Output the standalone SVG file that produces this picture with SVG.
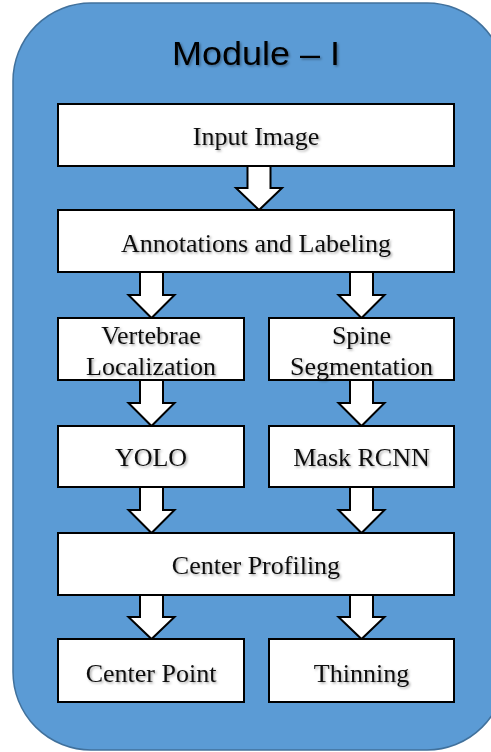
<svg xmlns="http://www.w3.org/2000/svg" width="491" height="752" viewBox="0 0 491 752">
  <defs>
    <filter id="txtShadow" x="-10%" y="-20%" width="120%" height="150%">
      <feDropShadow dx="1.5" dy="1.5" stdDeviation="0.8" flood-color="#000" flood-opacity="0.35"/>
    </filter>
    <style>
      .box { fill: #ffffff; stroke: #000000; stroke-width: 2; }
      .arrow { fill: #ffffff; stroke: #000000; stroke-width: 2; stroke-linejoin: miter; }
      .lbl { font-family: "Liberation Serif", "Times New Roman", serif; font-size: 26px; fill: #111; text-anchor: middle; filter: url(#txtShadow); }
      .title { font-family: "Liberation Sans", Arial, sans-serif; font-size: 33px; fill: #000; text-anchor: middle; filter: url(#txtShadow); }
    </style>
  </defs>

  <!-- module background panel -->
  <rect id="panel" x="13" y="3" width="492" height="747" rx="78" ry="78" fill="#5B9BD5" stroke="#41719C" stroke-width="1.5"/>
  <text class="title" x="256" y="65" textLength="168" lengthAdjust="spacingAndGlyphs">Module – I</text>

  <!-- block arrows -->
  <g id="connectors">
    <path class="arrow" d="M247.5,166 H270.5 V188 H282 L259,210 L236,188 H247.5 Z"/>
    <path class="arrow" d="M140,272 H163 V295 H174.5 L151.5,318 L128.5,295 H140 Z"/>
    <path class="arrow" d="M350,272 H373 V295 H384.5 L361.5,318 L338.5,295 H350 Z"/>
    <path class="arrow" d="M140,380 H163 V403 H174.5 L151.5,426 L128.5,403 H140 Z"/>
    <path class="arrow" d="M350,380 H373 V403 H384.5 L361.5,426 L338.5,403 H350 Z"/>
    <path class="arrow" d="M140,487 H163 V510 H174.5 L151.5,533 L128.5,510 H140 Z"/>
    <path class="arrow" d="M350,487 H373 V510 H384.5 L361.5,533 L338.5,510 H350 Z"/>
    <path class="arrow" d="M140,595 H163 V617 H174.5 L151.5,639 L128.5,617 H140 Z"/>
    <path class="arrow" d="M350,595 H373 V617 H384.5 L361.5,639 L338.5,617 H350 Z"/>
  </g>

  <g id="input-image">
    <rect class="box" x="58" y="104" width="396" height="62"/>
    <text class="lbl" x="256" y="145">Input Image</text>
  </g>
  <g id="annotations">
    <rect class="box" x="58" y="210" width="396" height="62"/>
    <text class="lbl" x="256" y="252">Annotations and Labeling</text>
  </g>
  <g id="vertebrae-localization">
    <rect class="box" x="58" y="318" width="186" height="62"/>
    <text class="lbl" x="151" y="344">Vertebrae</text>
    <text class="lbl" x="151" y="375">Localization</text>
  </g>
  <g id="spine-segmentation">
    <rect class="box" x="269" y="318" width="185" height="62"/>
    <text class="lbl" x="361.5" y="344">Spine</text>
    <text class="lbl" x="361.5" y="375">Segmentation</text>
  </g>
  <g id="yolo">
    <rect class="box" x="58" y="426" width="186" height="61"/>
    <text class="lbl" x="151" y="466">YOLO</text>
  </g>
  <g id="mask-rcnn">
    <rect class="box" x="269" y="426" width="185" height="61"/>
    <text class="lbl" x="361.5" y="466">Mask RCNN</text>
  </g>
  <g id="center-profiling">
    <rect class="box" x="58" y="533" width="396" height="62"/>
    <text class="lbl" x="256" y="574">Center Profiling</text>
  </g>
  <g id="center-point">
    <rect class="box" x="58" y="639" width="186" height="63"/>
    <text class="lbl" x="151" y="682">Center Point</text>
  </g>
  <g id="thinning">
    <rect class="box" x="269" y="639" width="185" height="63"/>
    <text class="lbl" x="361.5" y="682">Thinning</text>
  </g>
</svg>
